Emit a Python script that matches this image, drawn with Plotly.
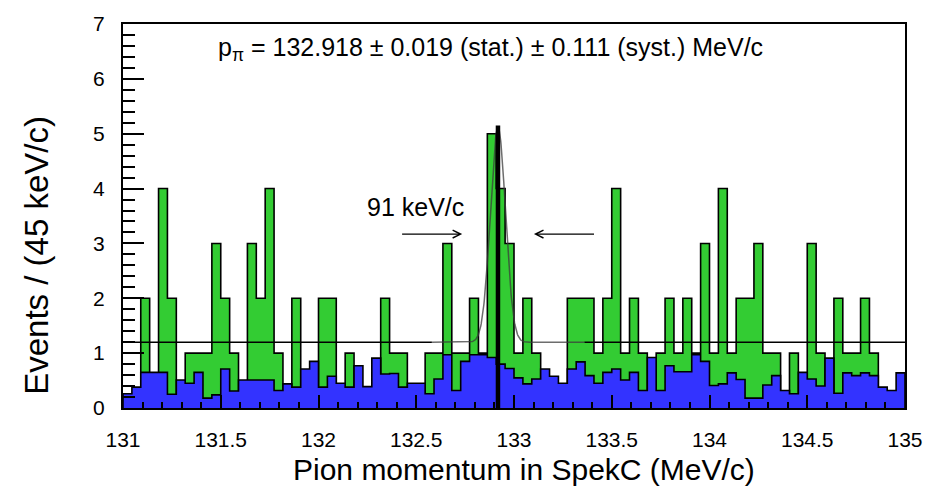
import numpy as np
import plotly.graph_objects as go

# Histogram binning: 88 bins between 131 and 135 MeV/c
x_min, x_max, n_bins = 131.0, 135.0, 88

# Events per bin (data)
events = [0, 0, 2, 0, 4, 2, 0, 1, 1, 1, 3, 2, 1, 0, 3, 2, 4, 1, 0, 2,
          0, 0, 2, 2, 0, 1, 0, 0, 0, 2, 1, 1, 0, 0, 1, 1, 3, 1, 1, 2,
          1, 5, 4, 3, 1, 2, 1, 0, 0, 0, 2, 2, 2, 1, 2, 4, 1, 2, 1, 0,
          1, 2, 1, 2, 1, 3, 1, 4, 1, 2, 2, 3, 1, 1, 0, 1, 0, 3, 1, 0,
          2, 1, 1, 2, 1, 0, 0, 0]

# Background estimate per bin
background = [0.26, 0.38, 0.65, 0.65, 0.65, 0.25, 0.51, 0.45, 0.65, 0.18,
              0.24, 0.71, 0.31, 0.51, 0.51, 0.51, 0.51, 0.32, 0.44, 0.38,
              0.71, 0.85, 0.38, 0.58, 0.45, 0.38, 0.77, 0.39, 0.91, 0.62,
              0.63, 0.38, 0.45, 0.45, 0.26, 0.53, 0.97, 0.32, 0.85, 0.97,
              0.97, 0.92, 0.80, 0.72, 0.55, 0.44, 0.53, 0.71, 0.58, 0.45,
              0.71, 0.84, 0.59, 0.45, 0.65, 0.71, 0.51, 0.65, 0.32, 0.92,
              0.32, 0.77, 0.66, 0.66, 0.97, 0.85, 0.41, 0.44, 0.64, 0.52,
              0.18, 0.18, 0.42, 0.59, 0.32, 0.26, 0.65, 0.53, 0.40, 0.91,
              0.27, 0.64, 0.59, 0.64, 0.59, 0.38, 0.32, 0.64]

# Fit result: flat background + Gaussian peak
p_pi = 132.918
fit_const = 1.2
fit_amp = 3.92
fit_fwhm = 0.091
fit_lo, fit_hi = 132.58, 133.36
marker_top = 5.15

x_ticks = [131, 131.5, 132, 132.5, 133, 133.5, 134, 134.5, 135]
x_tick_text = ["131", "131.5", "132", "132.5", "133", "133.5", "134", "134.5", "135"]

edges = np.linspace(x_min, x_max, n_bins + 1)


def step_outline(vals):
    xs = [edges[0]] + list(edges[:-1]) + [edges[-1], edges[-1]]
    ys = [0] + list(vals) + [vals[-1], 0]
    return xs, ys


FONT = "Liberation Sans, Arial, sans-serif"

fig = go.Figure()

gx, gy = step_outline(events)
fig.add_trace(go.Scatter(x=gx, y=gy, mode="lines", line_shape="hv",
                         fill="tozeroy", fillcolor="#33cc33",
                         line=dict(color="black", width=1.6),
                         hoverinfo="skip", showlegend=False))

bx, by = step_outline(background)
fig.add_trace(go.Scatter(x=bx, y=by, mode="lines", line_shape="hv",
                         fill="tozeroy", fillcolor="#3333ff",
                         line=dict(color="black", width=1.6),
                         hoverinfo="skip", showlegend=False))

# Flat part of the fit outside the peak window
fig.add_trace(go.Scatter(x=[x_min, fit_lo, None, fit_hi, x_max],
                         y=[fit_const, fit_const, None, fit_const, fit_const],
                         mode="lines", line=dict(color="black", width=1.5),
                         hoverinfo="skip", showlegend=False))

# Gaussian + constant in the peak window
sigma = fit_fwhm / (2 * np.sqrt(2 * np.log(2)))
xf = np.linspace(fit_lo, fit_hi, 400)
yf = fit_const + fit_amp * np.exp(-0.5 * ((xf - p_pi) / sigma) ** 2)
fig.add_trace(go.Scatter(x=xf, y=yf, mode="lines",
                         line=dict(color="rgba(60,60,60,0.75)", width=1.5),
                         hoverinfo="skip", showlegend=False))

# Fitted peak position
fig.add_trace(go.Scatter(x=[p_pi, p_pi], y=[0, marker_top], mode="lines",
                         line=dict(color="black", width=4.5),
                         hoverinfo="skip", showlegend=False))

annotations = [
    dict(x=132.88, y=6.55, xref="x", yref="y", showarrow=False,
         text="p<sub>π</sub> = 132.918 ± 0.019 (stat.) ± 0.111 (syst.) MeV/c",
         font=dict(family=FONT, size=25, color="black"),
         xanchor="center", yanchor="middle"),
    dict(x=132.495, y=3.67, xref="x", yref="y", showarrow=False,
         text="91 keV/c", font=dict(family=FONT, size=25, color="black"),
         xanchor="center", yanchor="middle"),
    dict(x=132.735, y=3.17, ax=132.42, ay=3.17, xref="x", yref="y",
         axref="x", ayref="y", text="", showarrow=True, arrowhead=5,
         arrowsize=1.1, arrowwidth=1.4, arrowcolor="black"),
    dict(x=133.102, y=3.17, ax=133.417, ay=3.17, xref="x", yref="y",
         axref="x", ayref="y", text="", showarrow=True, arrowhead=5,
         arrowsize=1.1, arrowwidth=1.4, arrowcolor="black"),
    dict(x=(525 - 123) / (907 - 123), y=-0.16, xref="paper", yref="paper",
         showarrow=False, text="Pion momentum in SpekC (MeV/c)",
         font=dict(family=FONT, size=30, color="black"),
         xanchor="center", yanchor="middle"),
    dict(x=-0.11, y=(408 - 252) / (408 - 17), xref="paper", yref="paper",
         showarrow=False, text="Events / (45 keV/c)", textangle=-90,
         font=dict(family=FONT, size=33, color="black"),
         xanchor="center", yanchor="middle"),
]

fig.update_layout(
    width=935, height=490,
    margin=dict(l=123, r=28, t=17, b=82),
    paper_bgcolor="white", plot_bgcolor="white",
    annotations=annotations,
    font=dict(family=FONT, color="black"),
)

fig.update_xaxes(range=[x_min, x_max], tickvals=x_ticks, ticktext=x_tick_text,
                 ticks="inside", ticklen=13, tickwidth=1.5, tickcolor="black",
                 minor=dict(dtick=0.1, ticks="inside", ticklen=6,
                            tickwidth=1.5, tickcolor="black"),
                 showline=True, linecolor="black", linewidth=2, mirror=True,
                 showgrid=False, zeroline=False, ticklabelstandoff=12,
                 tickfont=dict(family=FONT, size=21, color="black"))
fig.update_yaxes(range=[0, 7], dtick=1, tick0=0,
                 ticks="inside", ticklen=21, tickwidth=1.5, tickcolor="black",
                 minor=dict(dtick=0.2, ticks="inside", ticklen=12,
                            tickwidth=1.5, tickcolor="black"),
                 showline=True, linecolor="black", linewidth=2, mirror=True,
                 showgrid=False, zeroline=False, ticklabelstandoff=12,
                 tickfont=dict(family=FONT, size=21, color="black"))

fig.write_html("out.html")
